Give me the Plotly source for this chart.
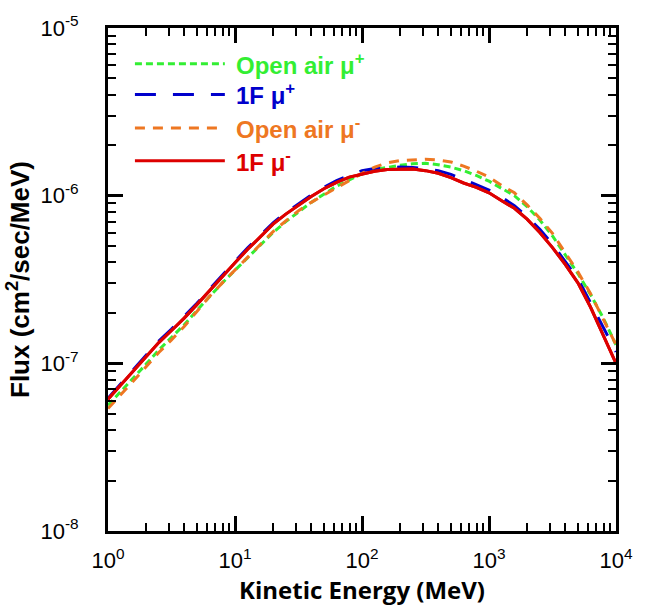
import plotly.graph_objects as go

# Kinetic energy grid (MeV)
energy = [1, 1.259, 1.585, 1.995, 2.512, 3.162, 3.981, 5.012, 6.310, 7.943,
          10, 12.59, 15.85, 19.95, 25.12, 31.62, 39.81, 50.12, 63.10, 79.43,
          100, 125.9, 158.5, 199.5, 251.2, 316.2, 398.1, 501.2, 631.0, 794.3,
          1000, 1259, 1585, 1995, 2512, 3162, 3981, 5012, 6310, 7943, 10000]

open_air_mu_plus = [5.62e-8, 6.76e-8, 8.13e-8, 9.89e-8, 1.20e-7, 1.43e-7, 1.70e-7, 2.07e-7, 2.51e-7, 3.02e-7,
                    3.59e-7, 4.27e-7, 5.07e-7, 6.03e-7, 7.00e-7, 8.04e-7, 9.12e-7, 1.02e-6, 1.14e-6, 1.24e-6,
                    1.35e-6, 1.43e-6, 1.48e-6, 1.52e-6, 1.55e-6, 1.56e-6, 1.53e-6, 1.48e-6, 1.41e-6, 1.32e-6,
                    1.22e-6, 1.11e-6, 1.00e-6, 8.61e-7, 7.16e-7, 5.75e-7, 4.47e-7, 3.43e-7, 2.57e-7, 1.86e-7, 1.29e-7]

f1_mu_plus = [6.2e-8, 7.55e-8, 9.2e-8, 1.12e-7, 1.36e-7, 1.60e-7, 1.90e-7, 2.28e-7, 2.77e-7, 3.37e-7,
              4.06e-7, 4.88e-7, 5.80e-7, 6.89e-7, 7.91e-7, 8.98e-7, 1.01e-6, 1.12e-6, 1.23e-6, 1.32e-6,
              1.41e-6, 1.45e-6, 1.47e-6, 1.48e-6, 1.47e-6, 1.45e-6, 1.41e-6, 1.34e-6, 1.25e-6, 1.16e-6,
              1.08e-6, 9.77e-7, 8.71e-7, 7.50e-7, 6.31e-7, 5.13e-7, 4.07e-7, 3.20e-7, 2.29e-7, 1.62e-7, 1.17e-7]

open_air_mu_minus = [5.37e-8, 6.46e-8, 7.85e-8, 9.55e-8, 1.16e-7, 1.38e-7, 1.66e-7, 2.04e-7, 2.51e-7, 3.02e-7,
                     3.59e-7, 4.27e-7, 5.13e-7, 6.10e-7, 7.08e-7, 8.13e-7, 9.12e-7, 1.01e-6, 1.12e-6, 1.24e-6,
                     1.36e-6, 1.48e-6, 1.57e-6, 1.62e-6, 1.64e-6, 1.65e-6, 1.63e-6, 1.59e-6, 1.50e-6, 1.40e-6,
                     1.29e-6, 1.15e-6, 1.04e-6, 8.81e-7, 7.33e-7, 5.96e-7, 4.57e-7, 3.51e-7, 2.60e-7, 1.82e-7, 1.29e-7]

f1_mu_minus = [6.10e-8, 7.41e-8, 9.02e-8, 1.10e-7, 1.33e-7, 1.57e-7, 1.86e-7, 2.24e-7, 2.72e-7, 3.31e-7,
               3.98e-7, 4.79e-7, 5.69e-7, 6.76e-7, 7.76e-7, 8.81e-7, 9.89e-7, 1.10e-6, 1.20e-6, 1.29e-6,
               1.35e-6, 1.40e-6, 1.43e-6, 1.44e-6, 1.44e-6, 1.41e-6, 1.36e-6, 1.28e-6, 1.19e-6, 1.12e-6,
               1.04e-6, 9.33e-7, 8.41e-7, 7.24e-7, 6.03e-7, 4.90e-7, 3.89e-7, 3.02e-7, 2.16e-7, 1.47e-7, 1.00e-7]

series_names = ["Open air μ<sup>+</sup>", "1F μ<sup>+</sup>", "Open air μ<sup>-</sup>", "1F μ<sup>-</sup>"]
series_values = [open_air_mu_plus, f1_mu_plus, open_air_mu_minus, f1_mu_minus]
colors = ["#33ee33", "#0000cc", "#ee7722", "#dd0000"]
dashes = ["7px,4px", "21px,17px", "10px,8px", "solid"]

x_tickvals = [1, 10, 100, 1000, 10000]
x_ticktext = ["10<sup>0</sup>", "10<sup>1</sup>", "10<sup>2</sup>", "10<sup>3</sup>", "10<sup>4</sup>"]
y_tickvals = [1e-8, 1e-7, 1e-6, 1e-5]
y_ticktext = ["10<sup>-8</sup>", "10<sup>-7</sup>", "10<sup>-6</sup>", "10<sup>-5</sup>"]

# minor tick positions (2..9 within every decade)
x_minor = [d * k for d in x_tickvals[:-1] for k in range(2, 10)]
y_minor = [d * k for d in y_tickvals[:-1] for k in range(2, 10)]

fig = go.Figure()
for name, vals, col, dash in zip(series_names, series_values, colors, dashes):
    fig.add_trace(go.Scatter(x=energy, y=vals, mode="lines", name=name,
                             line=dict(color=col, width=3, dash=dash)))

# the red curve again on the overlaid top/right axes (which carry the top/right frame and ticks)
fig.add_trace(go.Scatter(x=energy, y=f1_mu_minus, xaxis="x2", yaxis="y2", mode="lines",
                         line=dict(color=colors[3], width=3), hoverinfo="skip", showlegend=False))

# manual legend (line samples + coloured labels)
legend_y = [0.929, 0.868, 0.801, 0.736]
for name, col, dash, ly in zip(series_names, colors, dashes, legend_y):
    fig.add_shape(type="line", xref="paper", yref="paper", x0=0.053, x1=0.230, y0=ly, y1=ly,
                  line=dict(color=col, width=3, dash=dash))
    fig.add_annotation(xref="paper", yref="paper", x=0.249, y=ly, xanchor="left", yanchor="middle",
                       text="<b>" + name + "</b>", showarrow=False,
                       font=dict(family="Liberation Sans, Arial", size=24, color=col))

tick_font = dict(family="Liberation Sans, Arial", size=22, color="black")

def minor_ticks(vals):
    return dict(ticks="inside", ticklen=8, tickwidth=2, tickcolor="black",
                tickmode="array", tickvals=vals)

fig.update_layout(
    width=645, height=606,
    margin=dict(l=108, r=28, t=24, b=74),
    plot_bgcolor="rgba(0,0,0,0)", paper_bgcolor="white",
    showlegend=False,
    xaxis=dict(type="log", range=[0, 4], showline=True, linewidth=3, linecolor="black",
               ticks="inside", ticklen=15, tickwidth=2.5, tickcolor="black", showgrid=False, zeroline=False,
               tickmode="array", tickvals=x_tickvals, ticktext=x_ticktext, tickfont=tick_font,
               minor=minor_ticks(x_minor), ticklabelstandoff=8,
               title=dict(text="<b>Kinetic Energy (MeV)</b>", standoff=4,
                          font=dict(family="Open Sans", size=24, color="black"))),
    yaxis=dict(type="log", range=[-8, -5], showline=True, linewidth=3, linecolor="black",
               ticks="inside", ticklen=15, tickwidth=2.5, tickcolor="black", showgrid=False, zeroline=False,
               tickmode="array", tickvals=y_tickvals, ticktext=y_ticktext, tickfont=tick_font,
               minor=minor_ticks(y_minor), ticklabelstandoff=22,
               title=dict(text="<b>Flux (cm<sup>2</sup>/sec/MeV)</b>", standoff=4,
                          font=dict(family="Liberation Sans, Arial", size=26, color="black"))),
    xaxis2=dict(type="log", range=[0, 4], side="top", anchor="y2", overlaying="x",
                showline=True, linewidth=3, linecolor="black", showgrid=False, zeroline=False,
                ticks="inside", ticklen=15, tickwidth=2.5, tickcolor="black",
                tickmode="array", tickvals=x_tickvals, ticktext=["", "", "", "", ""],
                showticklabels=True, minor=minor_ticks(x_minor)),
    yaxis2=dict(type="log", range=[-8, -5], side="right", anchor="x2", overlaying="y",
                showline=True, linewidth=3, linecolor="black", showgrid=False, zeroline=False,
                ticks="inside", ticklen=15, tickwidth=2.5, tickcolor="black",
                tickmode="array", tickvals=y_tickvals, ticktext=["", "", "", ""],
                showticklabels=True, minor=minor_ticks(y_minor)),
)

fig.write_html("out.html")
